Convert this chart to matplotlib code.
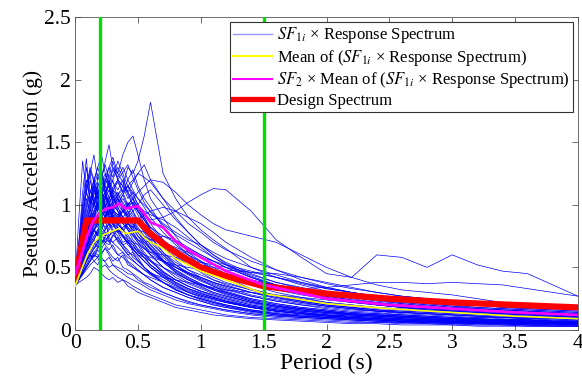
import numpy as np
import matplotlib
matplotlib.use("Agg")
import matplotlib.pyplot as plt
from matplotlib.lines import Line2D

plt.rcParams["font.family"] = ["Liberation Serif", "DejaVu Serif"]
plt.rcParams["mathtext.fontset"] = "stix"

# period grid for the scaled record spectra
periods = [0, 0.03, 0.06, 0.09, 0.12, 0.15, 0.18, 0.21, 0.24, 0.27, 0.30,
           0.34, 0.38, 0.42, 0.46, 0.50, 0.55, 0.60, 0.70, 0.80, 0.90, 1.0,
           1.1, 1.2, 1.4, 1.6, 1.8, 2.0, 2.2, 2.4, 2.6, 2.8, 3.0, 3.2, 3.4,
           3.6, 3.8, 4.0]

# SF1i x response spectrum (one list per record)
spectra = [
    [0.38, 0.45, 0.55, 0.7, 0.8, 0.9, 0.85, 0.95, 1.05, 1.0, 1.1, 1.2, 1.15, 1.3, 1.25, 1.35, 1.55, 1.82, 1.25, 1.05, 0.9, 0.8, 0.72, 0.65, 0.5, 0.42, 0.36, 0.31, 0.27, 0.24, 0.21, 0.19, 0.17, 0.15, 0.14, 0.13, 0.12, 0.11],
    [0.4, 0.5, 0.65, 0.8, 0.9, 1.0, 0.95, 1.1, 1.05, 1.2, 1.3, 1.25, 1.4, 1.5, 1.55, 1.4, 1.2, 1.05, 0.9, 0.75, 0.62, 0.55, 0.48, 0.42, 0.33, 0.27, 0.23, 0.2, 0.18, 0.16, 0.14, 0.13, 0.12, 0.11, 0.1, 0.09, 0.08, 0.08],
    [0.37, 0.42, 0.5, 0.6, 0.65, 0.72, 0.7, 0.78, 0.8, 0.85, 0.9, 0.88, 0.95, 0.92, 1.0, 0.98, 0.92, 0.88, 0.9, 0.95, 1.02, 1.08, 1.13, 1.12, 0.95, 0.72, 0.58, 0.45, 0.42, 0.6, 0.58, 0.5, 0.6, 0.52, 0.47, 0.45, 0.36, 0.27],
    [0.36, 0.4, 0.45, 0.5, 0.55, 0.6, 0.58, 0.65, 0.7, 0.68, 0.75, 0.8, 0.78, 0.85, 0.82, 0.8, 0.78, 0.75, 0.7, 0.65, 0.6, 0.55, 0.5, 0.45, 0.4, 0.35, 0.33, 0.34, 0.36, 0.38, 0.38, 0.37, 0.38, 0.37, 0.36, 0.33, 0.3, 0.27],
    [0.38, 0.42, 0.5, 0.55, 0.6, 0.65, 0.7, 0.68, 0.75, 0.8, 0.85, 0.9, 0.95, 1.0, 1.05, 1.1, 1.15, 1.2, 1.18, 1.1, 1.0, 0.92, 0.85, 0.8, 0.75, 0.7, 0.6, 0.5, 0.42, 0.36, 0.32, 0.3, 0.28, 0.25, 0.22, 0.2, 0.18, 0.17],
    [0.4, 0.7, 1.1, 1.37, 1.0, 1.2, 0.95, 1.1, 0.9, 1.0, 0.85, 0.8, 0.75, 0.7, 0.65, 0.6, 0.55, 0.5, 0.42, 0.36, 0.3, 0.26, 0.23, 0.2, 0.16, 0.13, 0.11, 0.1, 0.09, 0.08, 0.07, 0.06, 0.06, 0.05, 0.05, 0.04, 0.04, 0.04],
    [0.39, 0.55, 0.75, 0.9, 1.05, 1.15, 1.25, 1.2, 1.35, 1.48, 1.3, 1.2, 1.1, 1.0, 0.95, 0.88, 0.8, 0.72, 0.6, 0.5, 0.45, 0.4, 0.35, 0.3, 0.24, 0.2, 0.17, 0.15, 0.13, 0.12, 0.11, 0.1, 0.09, 0.08, 0.08, 0.07, 0.07, 0.06],
    [0.37, 0.6, 0.9, 1.1, 1.25, 1.4, 1.2, 1.3, 1.1, 1.15, 1.0, 0.95, 0.9, 0.85, 0.8, 0.75, 0.7, 0.65, 0.55, 0.48, 0.42, 0.37, 0.33, 0.29, 0.23, 0.19, 0.16, 0.14, 0.12, 0.11, 0.1, 0.09, 0.08, 0.08, 0.07, 0.07, 0.06, 0.06],
    [0.36, 0.4, 0.45, 0.5, 0.55, 0.6, 0.58, 0.62, 0.65, 0.6, 0.55, 0.58, 0.5, 0.48, 0.45, 0.42, 0.38, 0.36, 0.3, 0.26, 0.22, 0.2, 0.18, 0.16, 0.13, 0.11, 0.1, 0.09, 0.08, 0.07, 0.06, 0.06, 0.05, 0.05, 0.04, 0.04, 0.04, 0.03],
    [0.35, 0.38, 0.4, 0.42, 0.45, 0.5, 0.48, 0.45, 0.42, 0.4, 0.42, 0.38, 0.4, 0.35, 0.33, 0.3, 0.28, 0.26, 0.22, 0.18, 0.16, 0.14, 0.12, 0.11, 0.09, 0.08, 0.07, 0.06, 0.05, 0.05, 0.04, 0.04, 0.04, 0.03, 0.03, 0.03, 0.03, 0.03],
    [0.38, 0.45, 0.55, 0.65, 0.75, 0.85, 0.9, 0.95, 1.0, 0.92, 1.05, 0.98, 0.9, 0.85, 0.88, 0.8, 0.72, 0.65, 0.55, 0.46, 0.4, 0.35, 0.3, 0.27, 0.22, 0.18, 0.16, 0.14, 0.12, 0.11, 0.1, 0.09, 0.08, 0.08, 0.07, 0.07, 0.06, 0.06],
    [0.4, 0.6, 0.85, 1.0, 1.2, 1.05, 1.1, 0.95, 1.0, 0.9, 0.85, 0.82, 0.75, 0.7, 0.68, 0.62, 0.58, 0.52, 0.45, 0.38, 0.33, 0.3, 0.26, 0.23, 0.19, 0.16, 0.14, 0.12, 0.11, 0.1, 0.09, 0.08, 0.07, 0.07, 0.06, 0.06, 0.05, 0.05],
    [0.37, 0.42, 0.5, 0.58, 0.65, 0.72, 0.78, 0.85, 0.9, 0.95, 1.0, 1.05, 1.1, 1.15, 1.2, 1.25, 1.22, 1.18, 1.05, 0.95, 0.85, 0.78, 0.7, 0.64, 0.55, 0.48, 0.42, 0.37, 0.33, 0.3, 0.27, 0.25, 0.23, 0.21, 0.19, 0.18, 0.17, 0.16],
    [0.36, 0.42, 0.5, 0.6, 0.68, 0.72, 0.7, 0.75, 0.78, 0.72, 0.7, 0.74, 0.68, 0.62, 0.6, 0.56, 0.5, 0.46, 0.4, 0.35, 0.3, 0.27, 0.24, 0.22, 0.18, 0.15, 0.13, 0.12, 0.1, 0.09, 0.08, 0.08, 0.07, 0.06, 0.06, 0.05, 0.05, 0.05],
    [0.39, 0.5, 0.62, 0.75, 0.85, 0.92, 1.0, 1.08, 1.15, 1.1, 1.2, 1.3, 1.22, 1.1, 1.0, 0.95, 0.85, 0.75, 0.62, 0.52, 0.45, 0.4, 0.36, 0.32, 0.27, 0.23, 0.2, 0.18, 0.16, 0.15, 0.13, 0.12, 0.11, 0.1, 0.1, 0.09, 0.09, 0.08],
    [0.37, 0.4, 0.45, 0.5, 0.55, 0.6, 0.65, 0.7, 0.72, 0.75, 0.8, 0.78, 0.82, 0.85, 0.82, 0.88, 0.92, 0.95, 0.98, 0.95, 0.9, 0.85, 0.78, 0.7, 0.58, 0.48, 0.4, 0.34, 0.3, 0.26, 0.23, 0.21, 0.19, 0.17, 0.16, 0.15, 0.14, 0.13],
    [0.38, 0.9, 1.35, 1.1, 1.25, 1.0, 1.15, 0.95, 0.9, 1.0, 0.85, 0.78, 0.7, 0.72, 0.62, 0.58, 0.5, 0.45, 0.38, 0.32, 0.28, 0.25, 0.22, 0.19, 0.15, 0.13, 0.11, 0.1, 0.09, 0.08, 0.07, 0.07, 0.06, 0.06, 0.05, 0.05, 0.05, 0.04],
    [0.36, 0.48, 0.62, 0.72, 0.8, 0.85, 0.9, 0.88, 0.8, 0.85, 0.78, 0.72, 0.65, 0.6, 0.56, 0.52, 0.48, 0.44, 0.38, 0.32, 0.28, 0.25, 0.22, 0.2, 0.16, 0.14, 0.12, 0.11, 0.1, 0.09, 0.08, 0.07, 0.07, 0.06, 0.06, 0.05, 0.05, 0.05],
    [0.4, 0.5, 0.6, 0.72, 0.82, 0.9, 0.95, 1.05, 1.1, 1.0, 0.95, 0.92, 0.88, 0.85, 0.8, 0.78, 0.75, 0.72, 0.7, 0.66, 0.62, 0.58, 0.55, 0.52, 0.47, 0.42, 0.37, 0.33, 0.3, 0.27, 0.25, 0.23, 0.21, 0.2, 0.18, 0.17, 0.16, 0.15],
    [0.37, 0.4, 0.48, 0.55, 0.6, 0.66, 0.7, 0.75, 0.8, 0.85, 0.82, 0.9, 0.95, 1.0, 1.05, 0.98, 0.9, 0.82, 0.75, 0.7, 0.65, 0.6, 0.55, 0.5, 0.42, 0.35, 0.3, 0.27, 0.24, 0.22, 0.2, 0.18, 0.16, 0.15, 0.14, 0.13, 0.12, 0.11],
    [0.35, 0.45, 0.55, 0.62, 0.6, 0.55, 0.58, 0.5, 0.52, 0.48, 0.45, 0.42, 0.4, 0.38, 0.35, 0.33, 0.3, 0.28, 0.24, 0.2, 0.18, 0.16, 0.14, 0.12, 0.1, 0.09, 0.08, 0.07, 0.06, 0.06, 0.05, 0.05, 0.04, 0.04, 0.04, 0.03, 0.03, 0.03],
    [0.39, 0.55, 0.72, 0.85, 0.98, 1.1, 1.2, 1.25, 1.15, 1.05, 1.1, 0.95, 0.85, 0.8, 0.72, 0.68, 0.6, 0.55, 0.46, 0.4, 0.35, 0.31, 0.28, 0.25, 0.2, 0.17, 0.15, 0.13, 0.12, 0.11, 0.1, 0.09, 0.08, 0.08, 0.07, 0.07, 0.06, 0.06],
    [0.4, 0.65, 1.0, 1.3, 1.1, 1.15, 1.0, 1.05, 1.1, 0.92, 0.95, 0.85, 0.88, 0.8, 0.75, 0.7, 0.65, 0.6, 0.5, 0.44, 0.38, 0.34, 0.3, 0.27, 0.22, 0.19, 0.17, 0.15, 0.13, 0.12, 0.11, 0.1, 0.09, 0.09, 0.08, 0.08, 0.07, 0.07],
    [0.38, 0.48, 0.6, 0.72, 0.82, 0.9, 1.0, 1.1, 1.2, 1.25, 1.35, 1.2, 1.15, 1.05, 1.1, 1.0, 0.92, 0.85, 0.72, 0.62, 0.55, 0.5, 0.46, 0.42, 0.36, 0.32, 0.28, 0.25, 0.22, 0.2, 0.18, 0.17, 0.15, 0.14, 0.13, 0.12, 0.12, 0.11],
    [0.36, 0.5, 0.6, 0.7, 0.75, 0.8, 0.75, 0.78, 0.7, 0.72, 0.65, 0.6, 0.62, 0.55, 0.52, 0.48, 0.44, 0.4, 0.34, 0.3, 0.26, 0.23, 0.2, 0.18, 0.15, 0.12, 0.11, 0.1, 0.09, 0.08, 0.07, 0.07, 0.06, 0.06, 0.05, 0.05, 0.05, 0.04],
    [0.38, 0.44, 0.52, 0.6, 0.68, 0.75, 0.8, 0.85, 0.9, 0.95, 1.0, 1.08, 1.12, 1.15, 1.1, 1.05, 1.0, 0.95, 0.85, 0.78, 0.72, 0.68, 0.62, 0.57, 0.5, 0.44, 0.38, 0.33, 0.3, 0.27, 0.25, 0.23, 0.21, 0.2, 0.18, 0.17, 0.16, 0.15],
    [0.37, 0.55, 0.7, 0.8, 0.9, 0.95, 1.0, 1.05, 1.1, 1.2, 1.05, 1.0, 0.95, 0.88, 0.82, 0.75, 0.68, 0.6, 0.5, 0.42, 0.37, 0.33, 0.29, 0.26, 0.21, 0.18, 0.15, 0.14, 0.12, 0.11, 0.1, 0.09, 0.09, 0.08, 0.08, 0.07, 0.07, 0.06],
    [0.38, 0.45, 0.55, 0.65, 0.72, 0.8, 0.85, 0.9, 0.88, 0.95, 0.9, 0.85, 0.88, 0.82, 0.78, 0.72, 0.68, 0.62, 0.55, 0.5, 0.45, 0.42, 0.38, 0.35, 0.3, 0.26, 0.23, 0.2, 0.18, 0.16, 0.15, 0.14, 0.13, 0.12, 0.11, 0.1, 0.1, 0.09],
    [0.4, 0.58, 0.8, 0.95, 1.1, 1.2, 1.3, 1.4, 1.25, 1.15, 1.2, 1.05, 0.95, 0.9, 0.85, 0.78, 0.72, 0.66, 0.56, 0.47, 0.41, 0.36, 0.32, 0.28, 0.22, 0.19, 0.16, 0.14, 0.13, 0.12, 0.11, 0.1, 0.09, 0.08, 0.08, 0.07, 0.07, 0.06],
    [0.37, 0.42, 0.48, 0.55, 0.6, 0.65, 0.68, 0.72, 0.7, 0.75, 0.78, 0.8, 0.76, 0.72, 0.7, 0.68, 0.65, 0.62, 0.6, 0.58, 0.55, 0.52, 0.5, 0.48, 0.46, 0.45, 0.42, 0.38, 0.34, 0.3, 0.27, 0.25, 0.23, 0.22, 0.21, 0.2, 0.19, 0.18],
    [0.36, 0.52, 0.68, 0.85, 0.95, 1.05, 0.98, 1.1, 1.0, 0.92, 0.98, 0.88, 0.8, 0.76, 0.7, 0.64, 0.58, 0.52, 0.44, 0.38, 0.33, 0.29, 0.26, 0.23, 0.19, 0.16, 0.14, 0.12, 0.11, 0.1, 0.09, 0.08, 0.08, 0.07, 0.07, 0.06, 0.06, 0.05],
    [0.39, 0.46, 0.56, 0.66, 0.75, 0.82, 0.88, 0.95, 1.0, 1.05, 1.12, 1.08, 1.02, 0.95, 0.9, 0.85, 0.8, 0.76, 0.68, 0.6, 0.52, 0.46, 0.4, 0.36, 0.3, 0.25, 0.22, 0.19, 0.17, 0.15, 0.14, 0.13, 0.12, 0.11, 0.1, 0.1, 0.09, 0.09],
    [0.35, 0.4, 0.46, 0.52, 0.58, 0.62, 0.6, 0.56, 0.55, 0.58, 0.52, 0.5, 0.48, 0.45, 0.44, 0.4, 0.37, 0.34, 0.3, 0.26, 0.23, 0.2, 0.18, 0.16, 0.13, 0.11, 0.1, 0.09, 0.08, 0.07, 0.06, 0.06, 0.05, 0.05, 0.05, 0.04, 0.04, 0.04],
    [0.38, 0.6, 0.92, 1.15, 1.3, 1.2, 1.05, 1.15, 0.95, 0.9, 0.92, 0.82, 0.75, 0.7, 0.65, 0.6, 0.55, 0.5, 0.42, 0.36, 0.31, 0.28, 0.25, 0.22, 0.18, 0.15, 0.13, 0.12, 0.1, 0.09, 0.09, 0.08, 0.07, 0.07, 0.06, 0.06, 0.05, 0.05],
    [0.37, 0.5, 0.68, 0.8, 0.92, 0.88, 1.0, 0.95, 1.08, 1.02, 0.95, 1.05, 0.98, 0.9, 0.95, 0.85, 0.78, 0.7, 0.6, 0.52, 0.46, 0.41, 0.37, 0.33, 0.27, 0.23, 0.2, 0.17, 0.15, 0.14, 0.12, 0.11, 0.1, 0.1, 0.09, 0.08, 0.08, 0.07],
    [0.4, 0.62, 0.85, 1.05, 0.95, 1.15, 1.05, 1.25, 1.1, 1.0, 1.08, 0.98, 0.9, 0.95, 0.85, 0.8, 0.74, 0.68, 0.58, 0.5, 0.44, 0.39, 0.35, 0.31, 0.25, 0.21, 0.18, 0.16, 0.14, 0.13, 0.12, 0.11, 0.1, 0.09, 0.08, 0.08, 0.07, 0.07],
    [0.36, 0.45, 0.58, 0.68, 0.78, 0.85, 0.82, 0.9, 0.98, 1.05, 1.12, 1.18, 1.1, 1.2, 1.28, 1.15, 1.05, 0.98, 0.82, 0.7, 0.6, 0.52, 0.46, 0.4, 0.32, 0.27, 0.23, 0.2, 0.18, 0.16, 0.15, 0.14, 0.13, 0.12, 0.11, 0.1, 0.1, 0.09],
    [0.38, 0.55, 0.72, 0.82, 0.78, 0.9, 0.85, 0.8, 0.88, 0.75, 0.8, 0.7, 0.66, 0.6, 0.62, 0.55, 0.5, 0.46, 0.38, 0.33, 0.28, 0.25, 0.22, 0.2, 0.16, 0.13, 0.12, 0.1, 0.09, 0.08, 0.08, 0.07, 0.06, 0.06, 0.05, 0.05, 0.05, 0.04],
    [0.39, 0.48, 0.6, 0.75, 0.9, 1.0, 1.12, 1.05, 1.18, 1.3, 1.22, 1.35, 1.25, 1.15, 1.05, 0.98, 0.9, 0.8, 0.66, 0.56, 0.48, 0.42, 0.38, 0.34, 0.28, 0.24, 0.21, 0.19, 0.17, 0.15, 0.14, 0.13, 0.12, 0.11, 0.1, 0.1, 0.09, 0.09],
    [0.37, 0.42, 0.5, 0.56, 0.62, 0.68, 0.72, 0.78, 0.75, 0.82, 0.88, 0.92, 0.98, 1.02, 0.95, 1.0, 1.08, 1.12, 1.0, 0.88, 0.78, 0.68, 0.6, 0.54, 0.45, 0.38, 0.33, 0.29, 0.26, 0.23, 0.21, 0.19, 0.17, 0.16, 0.15, 0.14, 0.13, 0.12],
    [0.41, 0.7, 1.0, 1.2, 1.05, 0.98, 1.1, 0.9, 0.95, 0.85, 0.8, 0.75, 0.68, 0.64, 0.58, 0.55, 0.5, 0.45, 0.38, 0.32, 0.28, 0.24, 0.21, 0.19, 0.15, 0.12, 0.11, 0.1, 0.09, 0.08, 0.07, 0.07, 0.06, 0.06, 0.05, 0.05, 0.04, 0.04],
    [0.36, 0.44, 0.52, 0.62, 0.7, 0.78, 0.85, 0.8, 0.9, 0.98, 0.92, 0.85, 0.8, 0.86, 0.78, 0.72, 0.66, 0.6, 0.55, 0.52, 0.5, 0.48, 0.45, 0.42, 0.38, 0.35, 0.32, 0.28, 0.25, 0.22, 0.2, 0.18, 0.17, 0.16, 0.15, 0.14, 0.13, 0.12],
    [0.38, 0.52, 0.65, 0.78, 0.88, 0.95, 1.02, 1.12, 1.2, 1.15, 1.28, 1.22, 1.3, 1.2, 1.12, 1.05, 0.98, 0.9, 0.78, 0.68, 0.6, 0.54, 0.48, 0.43, 0.36, 0.3, 0.26, 0.22, 0.2, 0.18, 0.16, 0.15, 0.14, 0.13, 0.12, 0.11, 0.11, 0.1],
    [0.35, 0.42, 0.48, 0.55, 0.6, 0.58, 0.64, 0.6, 0.66, 0.62, 0.58, 0.55, 0.6, 0.52, 0.5, 0.47, 0.44, 0.42, 0.38, 0.34, 0.3, 0.27, 0.25, 0.22, 0.18, 0.15, 0.13, 0.11, 0.1, 0.09, 0.08, 0.07, 0.07, 0.06, 0.06, 0.05, 0.05, 0.05],
    [0.39, 0.58, 0.78, 0.92, 1.02, 1.12, 1.05, 1.18, 1.25, 1.15, 1.05, 1.1, 1.0, 0.92, 0.88, 0.82, 0.75, 0.68, 0.56, 0.48, 0.42, 0.37, 0.33, 0.3, 0.24, 0.2, 0.17, 0.15, 0.13, 0.12, 0.11, 0.1, 0.09, 0.09, 0.08, 0.08, 0.07, 0.07],
    [0.37, 0.46, 0.56, 0.66, 0.74, 0.8, 0.86, 0.92, 0.96, 1.0, 0.96, 0.92, 0.95, 1.0, 1.02, 0.95, 0.88, 0.82, 0.72, 0.64, 0.58, 0.52, 0.48, 0.45, 0.4, 0.36, 0.33, 0.3, 0.27, 0.25, 0.23, 0.21, 0.19, 0.18, 0.17, 0.16, 0.15, 0.14],
    [0.4, 0.6, 0.82, 0.98, 1.12, 1.0, 1.18, 1.08, 0.98, 1.05, 0.92, 0.85, 0.8, 0.74, 0.7, 0.65, 0.6, 0.55, 0.46, 0.4, 0.35, 0.31, 0.28, 0.25, 0.2, 0.17, 0.15, 0.13, 0.12, 0.11, 0.1, 0.09, 0.08, 0.08, 0.07, 0.07, 0.06, 0.06],
    [0.36, 0.4, 0.46, 0.52, 0.56, 0.62, 0.66, 0.7, 0.74, 0.7, 0.76, 0.72, 0.68, 0.7, 0.64, 0.6, 0.58, 0.55, 0.5, 0.45, 0.4, 0.36, 0.33, 0.3, 0.25, 0.21, 0.18, 0.16, 0.14, 0.13, 0.12, 0.11, 0.1, 0.09, 0.08, 0.08, 0.07, 0.07],
    [0.38, 0.5, 0.64, 0.76, 0.86, 0.95, 1.05, 1.15, 1.22, 1.3, 1.38, 1.25, 1.18, 1.08, 1.0, 0.92, 0.82, 0.74, 0.62, 0.54, 0.48, 0.44, 0.4, 0.37, 0.32, 0.28, 0.25, 0.22, 0.2, 0.18, 0.17, 0.16, 0.15, 0.14, 0.13, 0.12, 0.12, 0.11],
    [0.37, 0.44, 0.54, 0.64, 0.72, 0.8, 0.76, 0.84, 0.9, 0.86, 0.94, 0.9, 0.85, 0.8, 0.76, 0.72, 0.7, 0.72, 0.75, 0.72, 0.66, 0.6, 0.55, 0.5, 0.42, 0.36, 0.31, 0.27, 0.24, 0.21, 0.19, 0.17, 0.16, 0.15, 0.14, 0.13, 0.12, 0.11],
    [0.39, 0.66, 0.95, 1.15, 1.28, 1.18, 1.3, 1.2, 1.1, 1.15, 1.02, 0.95, 0.88, 0.82, 0.76, 0.7, 0.62, 0.56, 0.47, 0.4, 0.35, 0.31, 0.27, 0.24, 0.19, 0.16, 0.14, 0.12, 0.11, 0.1, 0.09, 0.08, 0.08, 0.07, 0.07, 0.06, 0.06, 0.05],
    [0.36, 0.42, 0.5, 0.58, 0.66, 0.72, 0.78, 0.85, 0.92, 0.98, 1.02, 1.08, 1.15, 1.1, 1.18, 1.25, 1.32, 1.2, 1.05, 0.9, 0.78, 0.68, 0.6, 0.53, 0.43, 0.36, 0.3, 0.26, 0.23, 0.2, 0.18, 0.16, 0.15, 0.14, 0.13, 0.12, 0.11, 0.1],
    [0.38, 0.48, 0.58, 0.68, 0.74, 0.8, 0.76, 0.82, 0.78, 0.74, 0.7, 0.66, 0.62, 0.58, 0.55, 0.52, 0.48, 0.45, 0.42, 0.4, 0.38, 0.36, 0.34, 0.32, 0.3, 0.28, 0.26, 0.24, 0.22, 0.2, 0.18, 0.17, 0.16, 0.15, 0.14, 0.13, 0.12, 0.11],
    [0.4, 0.55, 0.72, 0.88, 1.0, 1.08, 1.15, 1.22, 1.32, 1.2, 1.12, 1.05, 0.98, 0.9, 0.84, 0.78, 0.7, 0.64, 0.54, 0.46, 0.4, 0.36, 0.32, 0.29, 0.23, 0.19, 0.17, 0.15, 0.13, 0.12, 0.11, 0.1, 0.09, 0.09, 0.08, 0.08, 0.07, 0.07],
    [0.37, 0.45, 0.55, 0.62, 0.7, 0.74, 0.8, 0.86, 0.82, 0.88, 0.95, 1.0, 1.05, 0.98, 1.02, 0.95, 0.88, 0.8, 0.7, 0.62, 0.56, 0.5, 0.45, 0.42, 0.36, 0.32, 0.3, 0.28, 0.26, 0.24, 0.22, 0.2, 0.18, 0.17, 0.16, 0.15, 0.14, 0.13],
    [0.35, 0.4, 0.44, 0.48, 0.52, 0.55, 0.52, 0.58, 0.54, 0.5, 0.52, 0.48, 0.45, 0.42, 0.4, 0.38, 0.35, 0.32, 0.28, 0.24, 0.21, 0.19, 0.17, 0.15, 0.12, 0.1, 0.09, 0.08, 0.07, 0.06, 0.06, 0.05, 0.05, 0.04, 0.04, 0.04, 0.03, 0.03],
    [0.39, 0.52, 0.68, 0.8, 0.92, 1.02, 1.1, 1.0, 1.08, 1.18, 1.1, 1.02, 1.08, 0.98, 0.92, 0.86, 0.8, 0.75, 0.66, 0.58, 0.52, 0.47, 0.42, 0.38, 0.32, 0.27, 0.24, 0.21, 0.19, 0.17, 0.16, 0.15, 0.14, 0.13, 0.12, 0.11, 0.11, 0.1],
    [0.38, 0.56, 0.74, 0.86, 0.96, 0.9, 1.0, 0.92, 0.86, 0.92, 0.84, 0.78, 0.74, 0.7, 0.66, 0.63, 0.6, 0.58, 0.55, 0.5, 0.46, 0.42, 0.38, 0.35, 0.3, 0.26, 0.22, 0.19, 0.17, 0.15, 0.14, 0.13, 0.12, 0.11, 0.1, 0.09, 0.09, 0.08],
    [0.4, 0.5, 0.62, 0.74, 0.84, 0.94, 1.02, 1.1, 1.16, 1.24, 1.18, 1.12, 1.2, 1.1, 1.04, 0.96, 0.88, 0.8, 0.68, 0.6, 0.56, 0.54, 0.52, 0.5, 0.46, 0.42, 0.38, 0.34, 0.3, 0.27, 0.24, 0.22, 0.2, 0.18, 0.17, 0.16, 0.15, 0.14],
    [0.36, 0.46, 0.58, 0.7, 0.8, 0.88, 0.84, 0.95, 0.9, 0.85, 0.92, 0.8, 0.75, 0.68, 0.64, 0.6, 0.55, 0.5, 0.43, 0.37, 0.32, 0.28, 0.25, 0.22, 0.18, 0.15, 0.13, 0.11, 0.1, 0.09, 0.08, 0.08, 0.07, 0.07, 0.06, 0.06, 0.05, 0.05],
    [0.38, 0.48, 0.6, 0.7, 0.78, 0.86, 0.92, 0.98, 1.05, 1.12, 1.05, 1.0, 1.08, 1.15, 1.08, 1.0, 0.95, 0.92, 0.88, 0.82, 0.74, 0.66, 0.58, 0.52, 0.42, 0.35, 0.3, 0.26, 0.23, 0.2, 0.18, 0.16, 0.15, 0.14, 0.13, 0.12, 0.11, 0.1],
    [0.37, 0.62, 0.9, 1.1, 1.02, 1.2, 1.1, 1.0, 1.12, 0.98, 0.9, 0.84, 0.8, 0.72, 0.68, 0.62, 0.58, 0.52, 0.44, 0.38, 0.33, 0.29, 0.26, 0.23, 0.18, 0.15, 0.13, 0.11, 0.1, 0.09, 0.08, 0.08, 0.07, 0.07, 0.06, 0.06, 0.05, 0.05],
    [0.39, 0.46, 0.56, 0.66, 0.76, 0.84, 0.9, 0.96, 1.02, 1.08, 1.14, 1.2, 1.26, 1.32, 1.22, 1.12, 1.02, 0.94, 0.84, 0.76, 0.7, 0.64, 0.58, 0.52, 0.44, 0.38, 0.34, 0.3, 0.27, 0.24, 0.22, 0.2, 0.18, 0.17, 0.16, 0.15, 0.14, 0.13],
    [0.36, 0.44, 0.54, 0.6, 0.66, 0.7, 0.66, 0.72, 0.68, 0.64, 0.68, 0.6, 0.58, 0.54, 0.5, 0.48, 0.44, 0.4, 0.34, 0.3, 0.26, 0.23, 0.2, 0.18, 0.14, 0.12, 0.1, 0.09, 0.08, 0.07, 0.07, 0.06, 0.06, 0.05, 0.05, 0.04, 0.04, 0.04],
]

# mean and scaled mean
mean_periods = [0, 0.05, 0.1, 0.15, 0.2, 0.25, 0.3, 0.35, 0.4, 0.45, 0.5, 0.55,
                0.6, 0.65, 0.7, 0.8, 0.9, 1.0, 1.2, 1.5, 2.0, 2.5, 3.0, 3.5, 4.0]
mean_sa = [0.35, 0.48, 0.61, 0.7, 0.75, 0.77, 0.79, 0.81, 0.77, 0.78, 0.79, 0.74,
           0.7, 0.68, 0.65, 0.57, 0.52, 0.47, 0.4, 0.29, 0.21, 0.17, 0.14, 0.11, 0.09]
scaled_mean_sa = [0.44, 0.6, 0.76, 0.88, 0.94, 0.97, 0.98, 1.01, 0.97, 0.98, 0.99, 0.93,
                  0.86, 0.84, 0.82, 0.71, 0.64, 0.58, 0.47, 0.36, 0.25, 0.2, 0.17, 0.14, 0.12]

# design spectrum
design_periods = [0, 0.09, 0.5, 0.6, 0.7, 0.8, 1.0, 1.2, 1.5, 2.0, 2.5, 3.0, 3.5, 4.0]
design_sa = [0.4, 0.875, 0.875, 0.77, 0.69, 0.62, 0.5, 0.43, 0.35, 0.29, 0.25, 0.22, 0.2, 0.18]

# period range limits (0.2T and 1.5T)
range_lines = [0.2, 1.5]

fig = plt.figure(figsize=(5.82, 3.81), dpi=100)
ax = fig.add_axes([0.129, 0.134, 0.864, 0.821])

for s in spectra:
    ax.plot(periods, s, color="#0000ff", linewidth=0.5, zorder=2)

ax.plot(design_periods, design_sa, color="#ff0000", linewidth=4.5, zorder=3)
ax.plot(mean_periods, mean_sa, color="#ffff00", linewidth=1.2, zorder=4)
ax.plot(mean_periods, scaled_mean_sa, color="#ff00ff", linewidth=1.9, zorder=5)
for t in range_lines:
    ax.axvline(t, color="#00e000", linewidth=2.4, zorder=6)

ax.set_xlim(0, 4)
ax.set_ylim(0, 2.5)
ax.set_xticks(np.arange(0, 4.01, 0.5))
ax.set_yticks(np.arange(0, 2.51, 0.5))
ax.set_xticklabels(["0", "0.5", "1", "1.5", "2", "2.5", "3", "3.5", "4"])
ax.set_yticklabels(["0", "0.5", "1", "1.5", "2", "2.5"])
ax.tick_params(direction="in", top=True, right=True, labelsize=15.5, length=4,
               width=0.6, color="#555555")
ax.tick_params(axis="x", pad=3)
ax.tick_params(axis="y", pad=3)
for sp in ax.spines.values():
    sp.set_linewidth(0.6)
    sp.set_color("#555555")

ax.set_xlabel("Period (s)", fontsize=17, labelpad=0)
ax.set_ylabel("Pseudo Acceleration (g)", fontsize=15.5, labelpad=1)

legend_items = [
    Line2D([0], [0], color="#9999ff", linewidth=1.0, label=r"$SF_{1i}$ × Response Spectrum"),
    Line2D([0], [0], color="#ffff00", linewidth=1.5, label=r"Mean of ($SF_{1i}$ × Response Spectrum)"),
    Line2D([0], [0], color="#ff00ff", linewidth=1.5, label=r"$SF_{2}$ × Mean of ($SF_{1i}$ × Response Spectrum)"),
    Line2D([0], [0], color="#ff0000", linewidth=3.8, label="Design Spectrum"),
]
leg = ax.legend(handles=legend_items, loc="upper right", fontsize=12, fancybox=False,
                edgecolor="#333333", framealpha=1, handlelength=2.3, handletextpad=0.3,
                borderpad=0.2, labelspacing=0.15, borderaxespad=0.3)
leg.get_frame().set_linewidth(0.8)
leg.set_zorder(10)

fig.savefig("out.png", dpi=100)
